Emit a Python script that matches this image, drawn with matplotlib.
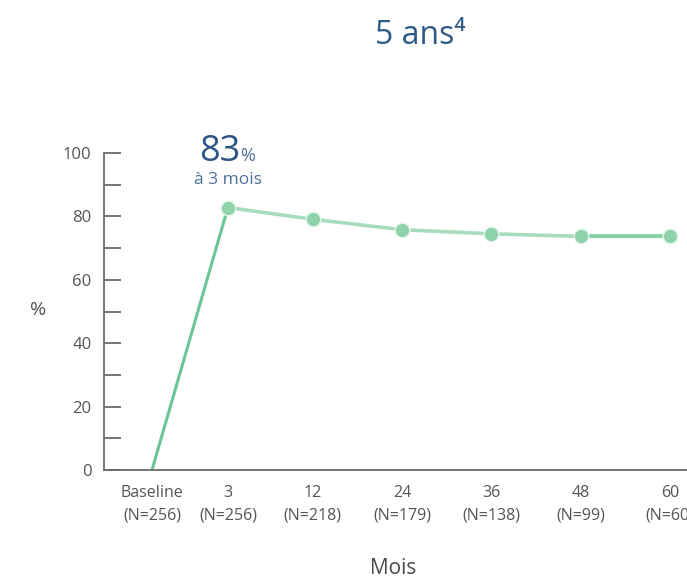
import matplotlib
matplotlib.use('Agg')
import matplotlib.pyplot as plt

plt.rcParams['font.family'] = ['Open Sans', 'DejaVu Sans']

# data
months = ['Baseline', '3', '12', '24', '36', '48', '60']
n_patients = [256, 256, 218, 179, 138, 99, 60]
xpos = [0, 0.85, 1.8, 2.8, 3.8, 4.8, 5.8]
values = [0, 82.8, 79.1, 75.8, 74.5, 73.7, 73.7]

W, H = 687, 578
fig = plt.figure(figsize=(W / 100, H / 100), dpi=100)
ax = fig.add_axes([104 / W, 1 - 470 / H, 1 - 104 / W, (470 - 153) / H])

axis_col = '#6b6b6b'
label_col = '#555555'

# first segment stronger green, the rest lighter
ax.plot(xpos[:2], values[:2], color='#6cc594', lw=2.2, zorder=2, solid_capstyle='butt')
ax.plot(xpos[1:], values[1:], color='#a6dcbd', lw=2.6, zorder=2)
ax.plot(xpos[-2:], values[-2:], color='#84cfa3', lw=2.6, zorder=2)
ax.plot(xpos[1:], values[1:], ls='none', marker='o', ms=10.5,
        mfc='#8fd3ab', mec='#e6f5ec', mew=1.0, zorder=3)

ax.set_xlim(-48 / 89.3, (687 - 152) / 89.3)
ax.set_ylim(0, 100)
ax.set_yticks(range(0, 101, 10))
ax.set_yticklabels([str(v) if v % 20 == 0 else '' for v in range(0, 101, 10)])
ax.set_xticks(xpos)
ax.set_xticklabels(['%s\n(N=%d)' % (m, n) for m, n in zip(months, n_patients)],
                   linespacing=1.5)

for s in ['top', 'right']:
    ax.spines[s].set_visible(False)
for s in ['left', 'bottom']:
    ax.spines[s].set_color(axis_col)
    ax.spines[s].set_linewidth(1.3)

ax.tick_params(axis='y', direction='in', length=12, width=1.3, color=axis_col,
               labelcolor=label_col, labelsize=12, pad=9)
ax.tick_params(axis='x', length=0, labelcolor=label_col, labelsize=11.5, pad=11)

fig.text(38 / W, 1 - 310 / H, '%', fontsize=14, color=label_col, ha='center', va='center')
fig.text(393 / W, 1 - 569 / H, 'Mois', fontsize=15, color='#4a4a4a', ha='center', va='center')

fig.text(420 / W, 1 - 44 / H, '5 ans\u2074', fontsize=23, color='#2e5a87', ha='center',
         va='baseline')

fig.text(240 / W, 1 - 161 / H, '83', fontsize=26, color='#2d5583', ha='right',
         va='baseline')
fig.text(240 / W, 1 - 161 / H, '%', fontsize=13, color='#4d7199', ha='left', va='baseline')
fig.text(228 / W, 1 - 184 / H, 'à 3 mois', fontsize=12.5, color='#4d7199', ha='center',
         va='baseline')

fig.savefig('out.png', dpi=100)
